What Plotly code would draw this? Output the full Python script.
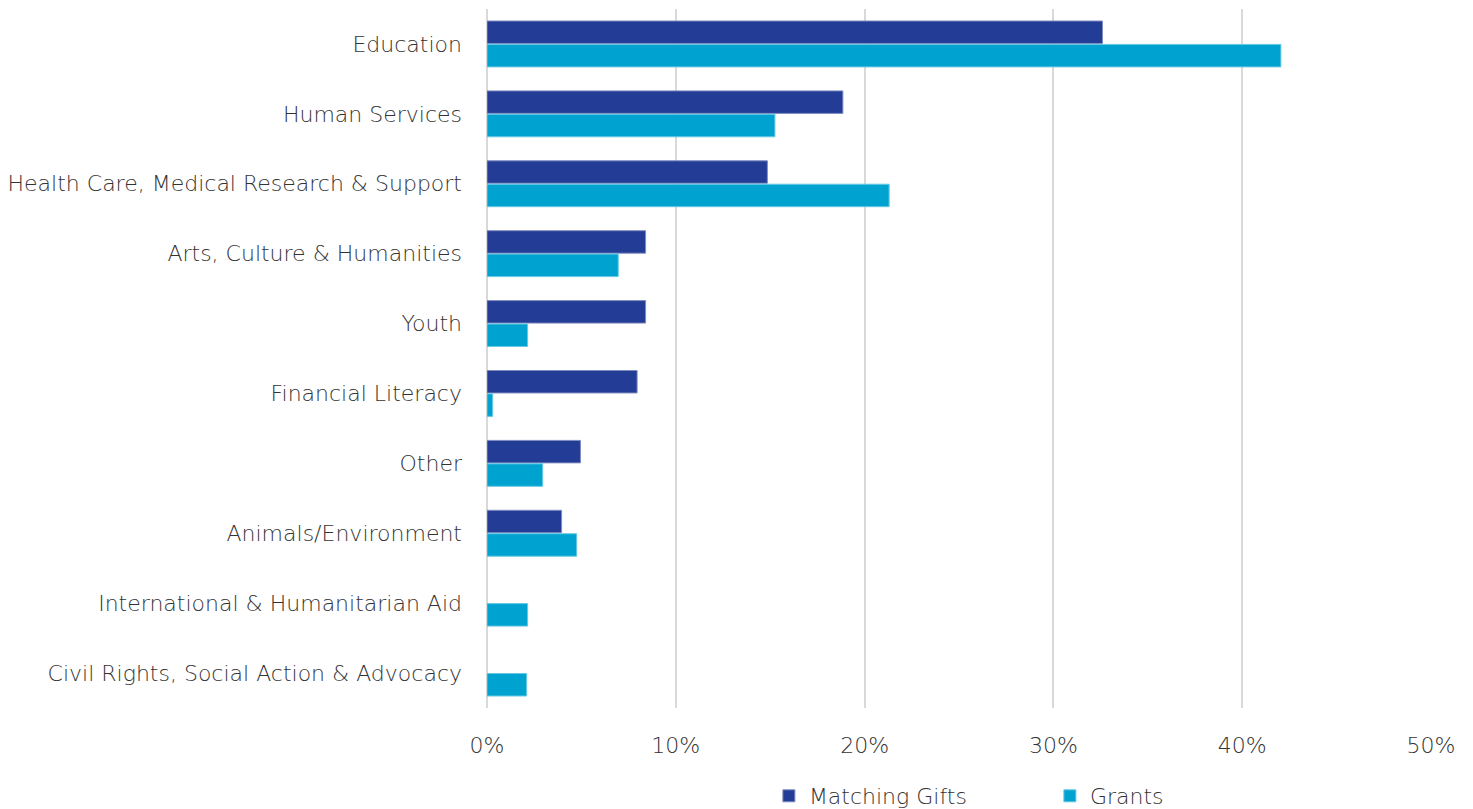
import plotly.graph_objects as go

categories = ["Education", "Human Services", "Health Care, Medical Research & Support",
              "Arts, Culture & Humanities", "Youth", "Financial Literacy", "Other",
              "Animals/Environment", "International & Humanitarian Aid",
              "Civil Rights, Social Action & Advocacy"]
matching_gifts = [32.6, 18.85, 14.85, 8.4, 8.4, 7.95, 4.95, 3.95, 0, 0]
grants = [42.05, 15.25, 21.3, 6.95, 2.15, 0.3, 2.95, 4.75, 2.15, 2.1]
tick_vals = [0, 10, 20, 30, 40, 50]
tick_text = ["0%", "10%", "20%", "30%", "40%", "50%"]

font_family = "DejaVu Sans, sans-serif"
text_color = "#333333"
fsize = 22


def outline_widths(vals):
    return [1 if v > 0 else 0 for v in vals]


fig = go.Figure()
fig.add_trace(go.Bar(y=categories, x=matching_gifts, orientation="h", name="Matching Gifts",
                     marker=dict(color="#233C96",
                                 line=dict(color="#7F8CC0", width=outline_widths(matching_gifts)))))
fig.add_trace(go.Bar(y=categories, x=grants, orientation="h", name="Grants",
                     marker=dict(color="#00A3D0",
                                 line=dict(color="#66C8E3", width=outline_widths(grants)))))

fig.update_layout(
    width=1473, height=809,
    margin=dict(l=487, r=42, t=9, b=101),
    plot_bgcolor="white", paper_bgcolor="white",
    barmode="group", bargap=0.33, bargroupgap=0.04,
    font=dict(family=font_family, size=fsize, color=text_color, weight=200),
    legend=dict(orientation="h", x=0.2986, xanchor="left", y=13 / 809, yanchor="middle",
                yref="container",
                font=dict(size=fsize, color=text_color, weight=200), itemwidth=30,
                entrywidth=236, entrywidthmode="pixels"),
    xaxis=dict(range=[0, 50], tickvals=tick_vals, ticktext=tick_text, automargin=False,
               showgrid=True, gridcolor="#D9D9D9", gridwidth=2,
               zeroline=True, zerolinecolor="#D9D9D9", zerolinewidth=2,
               ticklabelstandoff=22, tickfont=dict(size=fsize, color=text_color, weight=200)),
    yaxis=dict(autorange="reversed", showgrid=False, ticklabelstandoff=24, automargin=False,
               tickfont=dict(size=fsize, color=text_color, weight=200)),
)

fig.write_html("out.html")
